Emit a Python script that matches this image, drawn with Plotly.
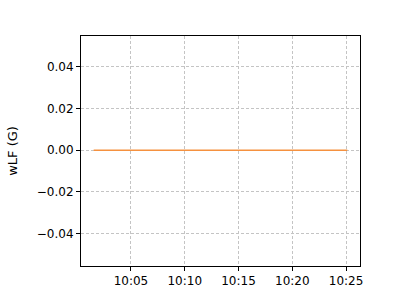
import plotly.graph_objects as go
import pandas as pd

times = ["2024-01-01 10:01:32", "2024-01-01 10:05:00", "2024-01-01 10:10:00",
         "2024-01-01 10:15:00", "2024-01-01 10:20:00", "2024-01-01 10:25:07"]
wlf = [0.0, 0.0, 0.0, 0.0, 0.0, 0.0]
tick_vals = ["2024-01-01 10:05:00", "2024-01-01 10:10:00", "2024-01-01 10:15:00",
             "2024-01-01 10:20:00", "2024-01-01 10:25:00"]
tick_text = ["10:05", "10:10", "10:15", "10:20", "10:25"]
y_ticks = [-0.04, -0.02, 0.0, 0.02, 0.04]
y_text = ["\u22120.04", "\u22120.02", "0.00", "0.02", "0.04"]

t = pd.to_datetime(times)
span = t[-1] - t[0]
xr = [t[0] - span * 0.05, t[-1] + span * 0.05]

fig = go.Figure()
fig.add_trace(go.Scatter(x=t, y=wlf, mode="lines", line=dict(color="#f5913f", width=1.5)))

axis_common = dict(showline=True, linecolor="black", linewidth=1, mirror=True,
                   ticks="outside", ticklen=4, tickcolor="black", tickwidth=1,
                   showgrid=True, gridcolor="#c4c4c4", gridwidth=0.6, griddash="3px,2px",
                   zeroline=False, tickfont=dict(family="DejaVu Sans", size=12, color="black"))

fig.update_layout(
    width=400, height=300, showlegend=False,
    margin=dict(l=80, r=40, t=36, b=32),
    plot_bgcolor="white", paper_bgcolor="white",
    xaxis=dict(range=xr, tickvals=pd.to_datetime(tick_vals), ticktext=tick_text, **axis_common),
    yaxis=dict(range=[-0.0555, 0.0548], tickvals=y_ticks, ticktext=y_text,
               title=dict(text="wLF (G)", font=dict(family="DejaVu Sans", size=13, color="black"), standoff=16),
               **axis_common),
)
fig.write_html("out.html")
